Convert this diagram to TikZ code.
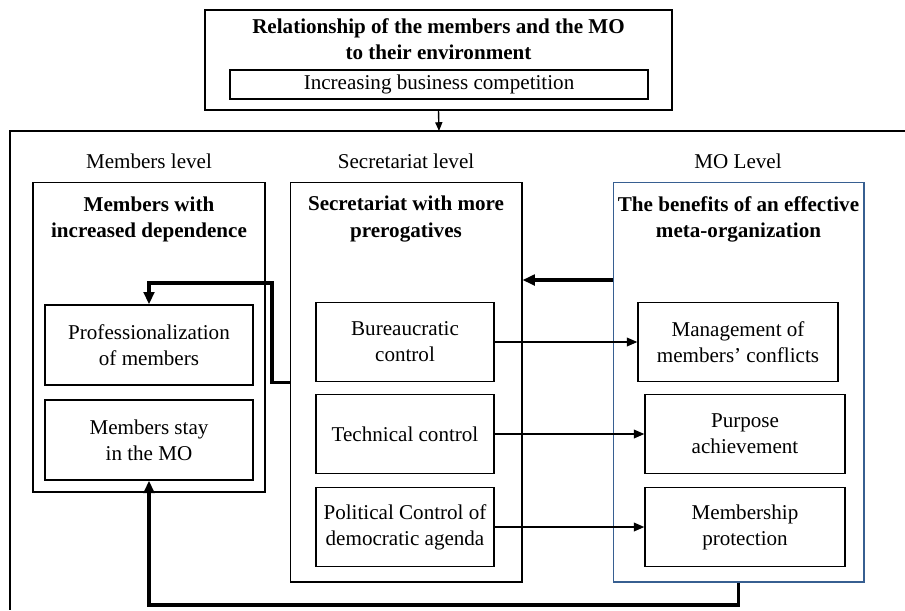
\documentclass[tikz,border=0pt]{standalone}
\usepackage{fontspec}
\setmainfont{Liberation Serif}
\usetikzlibrary{arrows.meta}

\definecolor{mocolor}{RGB}{55,95,145}
\newcommand\diagfont{\fontsize{12}{14.8}\selectfont}

\tikzset{
  box/.style={draw, line width=0.8pt, align=center, inner sep=0pt},
  colbox/.style={draw, line width=0.6pt, inner sep=0pt},
  heading/.style={font=\diagfont\bfseries, align=center, inner sep=0pt},
  level/.style={align=center, inner sep=0pt},
  thin arrow/.style={line width=0.8pt, -{Triangle[length=6pt,width=5pt]}},
  thick arrow/.style={line width=1.8pt, -{Triangle[length=7pt,width=6pt]}}
}

\begin{document}
\begin{tikzpicture}[x=0.02cm, y=-0.02cm, font=\diagfont]
\useasboundingbox (0,0) rectangle (905,610);

% environment box on top
\node[box, minimum width=9.34cm, minimum height=2cm] (envbox) at (438.5,60) {};
\node[heading] (envtitle) at (438.5,39) {Relationship of the members and the MO\\to their environment};
\node[box, minimum width=8.36cm, minimum height=0.58cm] (compbox) at (439,84.5) {Increasing business competition};

% open frame round the three levels
\coordinate (frametop) at (439,131);
\draw[line width=0.6pt] (905,131) -- (10,131) -- (10,610);
\draw[line width=0.8pt, -{Triangle[length=5pt,width=4pt]}] (envbox.south) -- (frametop);

% level captions
\node[level] (memblevel) at (149,161) {Members level};
\node[level] (secrlevel) at (406,161) {Secretariat level};
\node[level] (molevel) at (738,161) {MO Level};

% the three columns
\node[colbox, minimum width=4.64cm, minimum height=6.2cm] (membcol) at (149,337) {};
\node[colbox, minimum width=4.64cm, minimum height=8cm] (secrcol) at (406,382) {};
\node[colbox, draw=mocolor, minimum width=5.02cm, minimum height=8cm] (mocol) at (738.5,382) {};

\node[heading] (membhead) at (149,219) {Members with\\increased dependence};
\node[heading] (secrhead) at (406,219) {Secretariat with more\\prerogatives};
\node[heading] (mohead) at (738.5,219) {The benefits of an effective\\meta-organization};

% members level
\node[box, minimum width=4.16cm, minimum height=1.6cm] (prof) at (149,345) {Professionalization\\of members};
\node[box, minimum width=4.16cm, minimum height=1.6cm] (stay) at (149,440) {Members stay\\in the MO};

% secretariat level
\node[box, minimum width=3.56cm, minimum height=1.58cm] (bur) at (405,342) {Bureaucratic\\control};
\node[box, minimum width=3.56cm, minimum height=1.58cm] (tech) at (405,434) {Technical control};
\node[box, minimum width=3.56cm, minimum height=1.58cm] (pol) at (405,527) {Political Control of\\democratic agenda};

% MO level
\node[box, minimum width=4cm, minimum height=1.58cm] (mgmt) at (738,342) {Management of\\members' conflicts};
\node[box, minimum width=4cm, minimum height=1.58cm] (purp) at (745,434) {Purpose\\achievement};
\node[box, minimum width=4cm, minimum height=1.58cm] (memb) at (745,527) {Membership\\protection};

% controls lead to the benefits
\draw[thin arrow] (bur.east) -- (mgmt.west);
\draw[thin arrow] (tech.east) -- (purp.west);
\draw[thin arrow] (pol.east) -- (memb.west);

% feedback loops
\coordinate (fbrow) at (560,280);
\coordinate (bend) at (272,283);
\coordinate (loop) at (450,605);
\draw[thick arrow] (mocol.west |- fbrow) -- (secrcol.east |- fbrow);
\draw[thick arrow] (secrcol.west |- bur.south) -| (bend) -| (prof.north);
\draw[thick arrow] (mocol.south) |- (loop) -| (stay.south);
\end{tikzpicture}
\end{document}
